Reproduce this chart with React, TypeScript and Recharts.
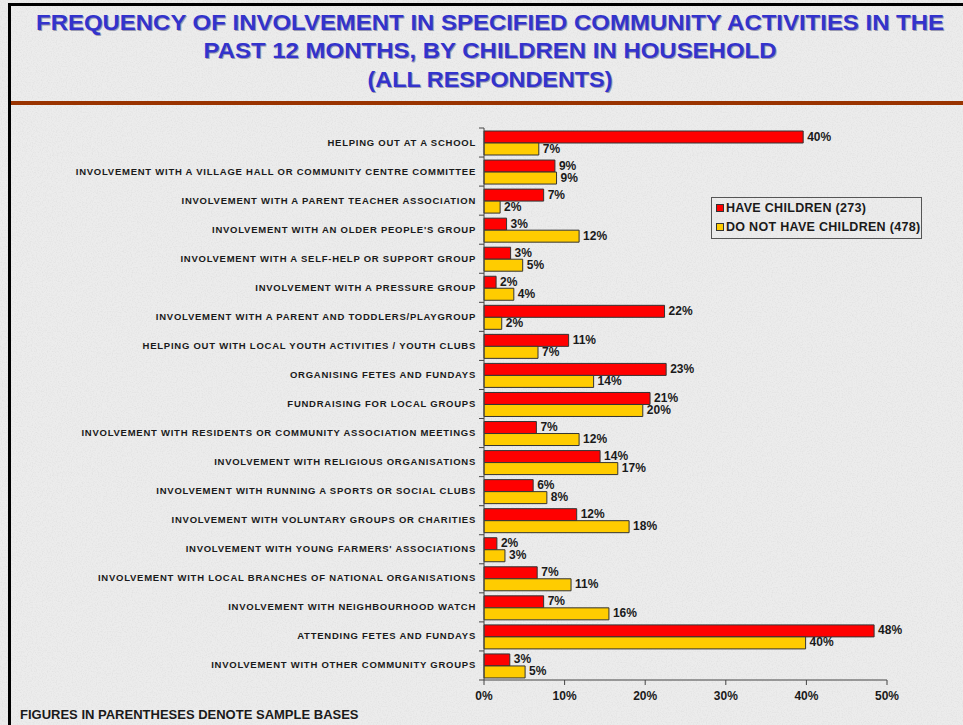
import React from "react";
import { BarChart, Bar, XAxis, YAxis, LabelList } from "recharts";

const categories = [
  "HELPING OUT AT A SCHOOL",
  "INVOLVEMENT WITH A VILLAGE HALL OR COMMUNITY CENTRE COMMITTEE",
  "INVOLVEMENT WITH A PARENT TEACHER ASSOCIATION",
  "INVOLVEMENT WITH AN OLDER PEOPLE'S GROUP",
  "INVOLVEMENT WITH A SELF-HELP OR SUPPORT GROUP",
  "INVOLVEMENT WITH A PRESSURE GROUP",
  "INVOLVEMENT WITH A PARENT AND TODDLERS/PLAYGROUP",
  "HELPING OUT WITH LOCAL YOUTH ACTIVITIES / YOUTH CLUBS",
  "ORGANISING FETES AND FUNDAYS",
  "FUNDRAISING FOR LOCAL GROUPS",
  "INVOLVEMENT WITH RESIDENTS OR COMMUNITY ASSOCIATION MEETINGS",
  "INVOLVEMENT WITH RELIGIOUS ORGANISATIONS",
  "INVOLVEMENT WITH RUNNING A SPORTS OR SOCIAL CLUBS",
  "INVOLVEMENT WITH VOLUNTARY GROUPS OR CHARITIES",
  "INVOLVEMENT WITH YOUNG FARMERS' ASSOCIATIONS",
  "INVOLVEMENT WITH LOCAL BRANCHES OF NATIONAL ORGANISATIONS",
  "INVOLVEMENT WITH NEIGHBOURHOOD WATCH",
  "ATTENDING FETES AND FUNDAYS",
  "INVOLVEMENT WITH OTHER COMMUNITY GROUPS",
];

// % with children in household (273)
const haveChildren = [39.6, 8.8, 7.4, 2.8, 3.3, 1.5, 22.4, 10.5, 22.6, 20.6, 6.5, 14.4, 6.1, 11.5, 1.6, 6.6, 7.4, 48.4, 3.2];
// % without children in household (478)
const noChildren = [6.8, 9.0, 2.0, 11.8, 4.8, 3.7, 2.2, 6.7, 13.6, 19.7, 11.8, 16.6, 7.8, 18.0, 2.6, 10.8, 15.5, 39.9, 5.1];

const xTicks = [0, 10, 20, 30, 40, 50];

const seriesNames = ["HAVE CHILDREN (273)", "DO NOT HAVE CHILDREN (478)"];
const RED = "#FF0000";
const YELLOW = "#FFCC00";
const FONT = "'Liberation Sans', Arial, sans-serif";

const data = categories.map((name, i) => ({
  name,
  have: haveChildren[i],
  not: noChildren[i],
}));

const PLOT_LEFT = 484;
const PLOT_TOP = 128;
const PLOT_BOTTOM = 680;
const band = (PLOT_BOTTOM - PLOT_TOP) / categories.length;

const CategoryTick = (props: any) => {
  const { y, payload, index } = props;
  return (
    <g>
      <text
        x={PLOT_LEFT - 8}
        y={y}
        dy={3}
        textAnchor="end"
        fontSize={9.5}
        fontWeight="bold"
        fontFamily={FONT}
        letterSpacing={0.75}
        fill="#1a1a1a"
      >
        {payload.value}
      </text>
      <line x1={PLOT_LEFT - 5} x2={PLOT_LEFT} y1={y - band / 2} y2={y - band / 2} stroke="#444" />
      {index === categories.length - 1 && (
        <line x1={PLOT_LEFT - 5} x2={PLOT_LEFT} y1={y + band / 2} y2={y + band / 2} stroke="#444" />
      )}
    </g>
  );
};

const ValueLabel = (props: any) => {
  const { x, y, width, height, value } = props;
  return (
    <text
      x={x + width + 4}
      y={y + height / 2 + 3.5}
      fontSize={12}
      fontWeight="bold"
      fontFamily={FONT}
      fill="#1a1a1a"
    >
      {Math.round(value)}%
    </text>
  );
};

function Backdrop() {
  return (
    <svg width={963} height={725} style={{ position: "absolute", left: 0, top: 0 }}>
      <defs>
        <filter id="grain" x="0" y="0" width="100%" height="100%">
          <feTurbulence type="fractalNoise" baseFrequency="0.8" numOctaves={2} seed={3} />
          <feColorMatrix
            type="matrix"
            values="0 0 0 0 0.6  0 0 0 0 0.6  0 0 0 0 0.6  1.6 0 0 0 -0.7"
          />
        </filter>
      </defs>
      <rect width={963} height={725} fill="#ececec" />
      <rect width={963} height={725} filter="url(#grain)" opacity={0.45} />
    </svg>
  );
}

function Title() {
  const lines = [
    { text: "FREQUENCY OF INVOLVEMENT IN SPECIFIED COMMUNITY ACTIVITIES IN THE", y: 30, len: 908 },
    { text: "PAST 12 MONTHS, BY CHILDREN IN HOUSEHOLD", y: 58, len: 573 },
    { text: "(ALL RESPONDENTS)", y: 87, len: 245 },
  ];
  return (
    <svg width={963} height={110} style={{ position: "absolute", left: 0, top: 0 }}>
      {lines.map((l) => (
        <g key={l.text}>
          <text
            x={491}
            y={l.y + 1}
            textAnchor="middle"
            textLength={l.len}
            lengthAdjust="spacingAndGlyphs"
            fontSize={22}
            fontWeight="bold"
            fontFamily={FONT}
            fill="#9a9ab0"
          >
            {l.text}
          </text>
          <text
            x={490}
            y={l.y}
            textAnchor="middle"
            textLength={l.len}
            lengthAdjust="spacingAndGlyphs"
            fontSize={22}
            fontWeight="bold"
            fontFamily={FONT}
            fill="#3333CC"
          >
            {l.text}
          </text>
        </g>
      ))}
    </svg>
  );
}

function Legend() {
  const colors = [RED, YELLOW];
  return (
    <div
      style={{
        position: "absolute",
        left: 711,
        top: 197,
        width: 209,
        height: 40,
        border: "1px solid #555",
        fontFamily: FONT,
        fontWeight: "bold",
        fontSize: 12.5,
        letterSpacing: 0.3,
        color: "#1a1a1a",
      }}
    >
      {seriesNames.map((n, i) => (
        <div
          key={n}
          style={{ position: "absolute", left: 4, top: 3 + i * 19, display: "flex", alignItems: "center", whiteSpace: "nowrap" }}
        >
          <span
            style={{
              display: "inline-block",
              width: 6,
              height: 6,
              background: colors[i],
              border: "1px solid #333",
              marginRight: 2,
            }}
          />
          {n}
        </div>
      ))}
    </div>
  );
}

export default function App() {
  return (
    <div
      style={{
        position: "absolute",
        left: 0,
        top: 0,
        width: 963,
        height: 725,
        overflow: "hidden",
        background: "#e8e8e8",
      }}
    >
      <Backdrop />
      <div style={{ position: "absolute", left: 10, top: 3, width: 953, height: 3, background: "#000" }} />
      <div style={{ position: "absolute", left: 8, top: 3, width: 3, height: 722, background: "#000" }} />
      <div style={{ position: "absolute", left: 11, top: 101, width: 952, height: 4, background: "#993300" }} />
      <Title />
      <BarChart
        width={963}
        height={725}
        data={data}
        layout="vertical"
        barSize={12}
        barGap={0}
        margin={{ top: PLOT_TOP, right: 76, bottom: 15, left: 0 }}
        style={{ position: "absolute", left: 0, top: 0 }}
      >
        <XAxis
          type="number"
          domain={[0, 50]}
          ticks={xTicks}
          tickFormatter={(v) => `${v}%`}
          height={30}
          axisLine={{ stroke: "#444" }}
          tickLine={{ stroke: "#444" }}
          tickSize={5}
          tickMargin={6}
          tick={{ fontSize: 12, fontWeight: "bold", fontFamily: FONT, fill: "#1a1a1a" }}
        />
        <YAxis
          type="category"
          dataKey="name"
          width={PLOT_LEFT}
          interval={0}
          tickLine={false}
          axisLine={{ stroke: "#444" }}
          tick={<CategoryTick />}
        />
        <Bar dataKey="have" fill={RED} stroke="#333" strokeWidth={1} isAnimationActive={false}>
          <LabelList dataKey="have" content={<ValueLabel />} />
        </Bar>
        <Bar dataKey="not" fill={YELLOW} stroke="#333" strokeWidth={1} isAnimationActive={false}>
          <LabelList dataKey="not" content={<ValueLabel />} />
        </Bar>
      </BarChart>
      <Legend />
      <div
        style={{
          position: "absolute",
          left: 20,
          top: 707,
          fontFamily: FONT,
          fontWeight: "bold",
          fontSize: 13,
          color: "#1a1a1a",
          whiteSpace: "nowrap",
        }}
      >
        FIGURES IN PARENTHESES DENOTE SAMPLE BASES
      </div>
    </div>
  );
}
